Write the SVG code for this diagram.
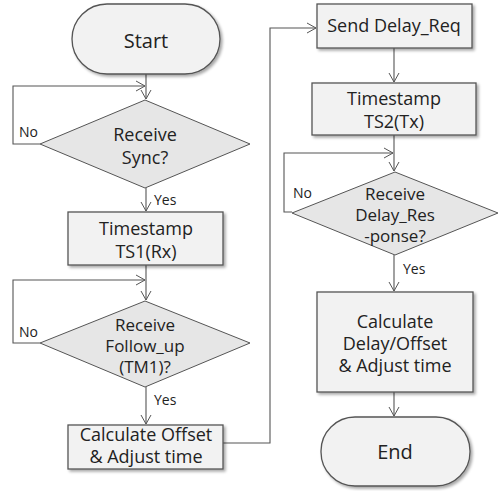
<svg xmlns="http://www.w3.org/2000/svg" width="502" height="491" viewBox="0 0 502 491">
<defs>
<filter id="sh" x="-10%" y="-10%" width="130%" height="140%">
<feGaussianBlur in="SourceAlpha" stdDeviation="1.5"/>
<feOffset dx="2" dy="2" result="b"/>
<feComponentTransfer><feFuncA type="linear" slope="0.35"/></feComponentTransfer>
<feMerge><feMergeNode/><feMergeNode in="SourceGraphic"/></feMerge>
</filter>
<marker id="ar" markerWidth="12" markerHeight="12" refX="10" refY="6" orient="auto" markerUnits="userSpaceOnUse">
<path d="M1,1 L10,6 L1,11" fill="none" stroke="#555" stroke-width="1"/>
</marker>
</defs>
<style>
.n{fill:#f2f2f2;stroke:#555;stroke-width:1.3;filter:url(#sh)}
.d{fill:#e6e6e6;stroke:#555;stroke-width:1;}
.t{font-family:"Open Sans","Noto Sans",sans-serif;font-size:18px;fill:#222;text-anchor:middle}
.q{font-size:17px}
.b{font-size:20px}
.s{font-family:"Open Sans","Noto Sans",sans-serif;font-size:14px;fill:#222}
.c{fill:none;stroke:#555;stroke-width:1.1}
</style>
<rect width="502" height="491" fill="#fff"/>
<g id="connectors">
<path class="c" d="M146,74 V99" marker-end="url(#ar)"/>
<path class="c" d="M40,144 H13 V86 H145" marker-end="url(#ar)"/>
<path class="c" d="M146,188 V211" marker-end="url(#ar)"/>
<path class="c" d="M146,265 V300" marker-end="url(#ar)"/>
<path class="c" d="M40,343 H13 V280 H145" marker-end="url(#ar)"/>
<path class="c" d="M146,387 V424" marker-end="url(#ar)"/>
<path class="c" d="M223,443 H270 V28 H316" marker-end="url(#ar)"/>
<path class="c" d="M394,48 V82" marker-end="url(#ar)"/>
<path class="c" d="M394,135 V171" marker-end="url(#ar)"/>
<path class="c" d="M292,212 H284 V153 H393" marker-end="url(#ar)"/>
<path class="c" d="M394,255 V291" marker-end="url(#ar)"/>
<path class="c" d="M394,392 V416" marker-end="url(#ar)"/>
<text class="s" x="19" y="137">No</text>
<text class="s" x="154" y="205">Yes</text>
<text class="s" x="19" y="337">No</text>
<text class="s" x="154" y="405">Yes</text>
<text class="s" x="293" y="198">No</text>
<text class="s" x="403" y="274">Yes</text>
</g>
<g id="start">
<rect class="n" x="72" y="4" width="148" height="70" rx="35" ry="35"/>
<text class="t b" x="146" y="48">Start</text>
</g>
<g id="sync">
<polygon class="d" points="145,100 250,144 145,188 40,144"/>
<text class="t" x="145" y="141">Receive</text>
<text class="t" x="145" y="164">Sync?</text>
</g>
<g id="ts1">
<rect class="n" x="68" y="212" width="155" height="53"/>
<text class="t" x="146" y="235">Timestamp</text>
<text class="t" x="146" y="258">TS1(Rx)</text>
</g>
<g id="followup">
<polygon class="d" points="145,301 250,343 145,387 40,343"/>
<text class="t q" x="145" y="331">Receive</text>
<text class="t q" x="145" y="352">Follow_up</text>
<text class="t q" x="145" y="373">(TM1)?</text>
</g>
<g id="calcoffset">
<rect class="n" x="68" y="425" width="155" height="44"/>
<text class="t" x="146" y="441">Calculate Offset</text>
<text class="t" x="146" y="463">&amp; Adjust time</text>
</g>
<g id="sendreq">
<rect class="n" x="317" y="4" width="155" height="44"/>
<text class="t" x="394" y="32">Send Delay_Req</text>
</g>
<g id="ts2">
<rect class="n" x="312" y="83" width="164" height="52"/>
<text class="t" x="394" y="105">Timestamp</text>
<text class="t" x="394" y="128">TS2(Tx)</text>
</g>
<g id="delayres">
<polygon class="d" points="395,172 498,213 395,255 292,213"/>
<text class="t q" x="395" y="200">Receive</text>
<text class="t q" x="395" y="221">Delay_Res</text>
<text class="t q" x="395" y="242">-ponse?</text>
</g>
<g id="calcdelay">
<rect class="n" x="317" y="292" width="156" height="100"/>
<text class="t" x="395" y="328">Calculate</text>
<text class="t" x="395" y="350">Delay/Offset</text>
<text class="t" x="395" y="372">&amp; Adjust time</text>
</g>
<g id="end">
<rect class="n" x="321" y="417" width="149" height="69" rx="34" ry="34"/>
<text class="t b" x="395" y="459">End</text>
</g>
</svg>
